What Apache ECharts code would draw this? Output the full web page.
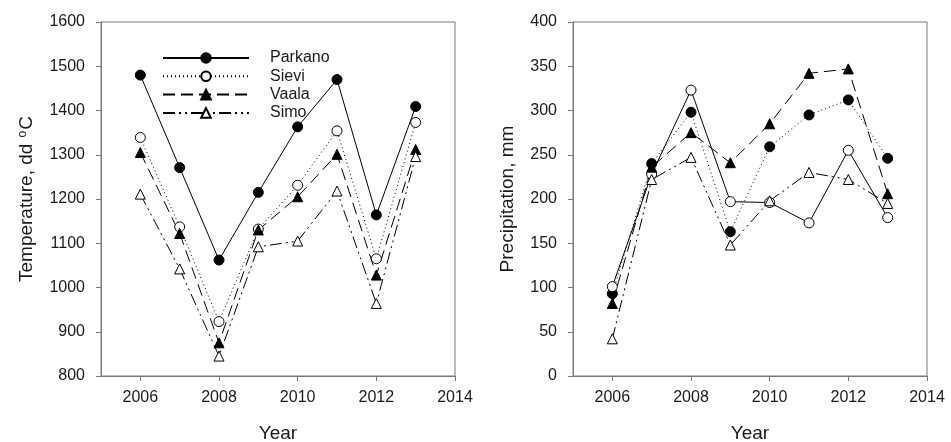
<!DOCTYPE html>
<html lang="en">
<head>
    <meta charset="UTF-8">
    <title>Temperature and precipitation</title>
    <script src="https://cdn.jsdelivr.net/npm/echarts@6/dist/echarts.min.js"></script>
</head>
<body>
<style>
    html, body, #main {
        width: 100%;
        padding: 0;
        margin: 0;
        height: 100%;
        background: #fff;
    }
</style>
<div id="main"></div>
<script>
    // data
    var years = [2006, 2007, 2008, 2009, 2010, 2011, 2012, 2013];
    var yearTicks = [2006, 2008, 2010, 2012, 2014];
    var stations = ['Parkano', 'Sievi', 'Vaala', 'Simo'];

    var tempParkano = [1480, 1271, 1062, 1215, 1363, 1470, 1164, 1409];
    var tempSievi   = [1339, 1137, 923, 1132, 1231, 1354, 1065, 1373];
    var tempVaala   = [1305, 1122, 875, 1130, 1205, 1301, 1028, 1312];
    var tempSimo    = [1211, 1042, 845, 1092, 1105, 1218, 964, 1296];

    var precParkano = [93, 240, 298, 163, 259, 295, 312, 246];
    var precSievi   = [101, 228, 323, 197, 196, 173, 255, 179];
    var precVaala   = [82, 236, 275, 241, 285, 342, 347, 206];
    var precSimo    = [42, 222, 247, 148, 198, 230, 222, 195];

    var font = 'Arial, "Liberation Sans", sans-serif';
    var axisGray = '#7a7a7a';
    var textColor = '#1a1a1a';

    var SOLID = 'solid';
    var DOTTED = [1, 3];
    var DASHED = [12, 6];
    var DASHDOTDOT = [12, 4, 2, 4, 2, 4];

    var markers = {
        Parkano: { symbol: 'circle', fill: '#000' },
        Sievi:   { symbol: 'circle', fill: '#fff' },
        Vaala:   { symbol: 'triangle', fill: '#000' },
        Simo:    { symbol: 'triangle', fill: '#fff' }
    };

    function plain(v) { return String(v); }

    function pairs(vals) {
        return years.map(function (y, i) { return [y, vals[i]]; });
    }

    function line(name, vals, dash, idx) {
        var m = markers[name];
        return {
            name: name,
            type: 'line',
            xAxisIndex: idx,
            yAxisIndex: idx,
            data: pairs(vals),
            symbol: m.symbol,
            symbolSize: 10,
            showAllSymbol: true,
            animation: false,
            lineStyle: { color: '#000', width: 1, type: dash },
            itemStyle: { color: m.fill, borderColor: '#000', borderWidth: 1, opacity: 1 }
        };
    }

    function xAxis(idx) {
        return {
            type: 'value',
            gridIndex: idx,
            min: 2005,
            max: 2014,
            name: 'Year',
            nameLocation: 'middle',
            nameGap: 48,
            nameTextStyle: { fontFamily: font, fontSize: 19, color: textColor },
            axisLine: { lineStyle: { color: axisGray } },
            axisTick: { length: 5, customValues: yearTicks, lineStyle: { color: axisGray } },
            axisLabel: { customValues: yearTicks, formatter: plain, fontFamily: font, fontSize: 16, color: textColor, margin: 14 },
            splitLine: { show: false }
        };
    }

    function yAxis(idx, min, max, step, name, gap) {
        return {
            type: 'value',
            gridIndex: idx,
            min: min,
            max: max,
            interval: step,
            name: name,
            nameLocation: 'middle',
            nameGap: gap,
            nameTextStyle: {
                fontFamily: font, fontSize: 19, color: textColor,
                rich: {
                    a: { fontFamily: font, fontSize: 19, color: textColor },
                    s: { fontFamily: font, fontSize: 12, color: textColor, verticalAlign: 'top', padding: [0, 1, 8, 1] }
                }
            },
            axisLine: { show: true, lineStyle: { color: axisGray } },
            axisTick: { show: true, length: 5, lineStyle: { color: axisGray } },
            axisLabel: { formatter: plain, fontFamily: font, fontSize: 16, color: textColor, margin: 16 },
            splitLine: { show: false }
        };
    }

    var myChart = echarts.init(document.getElementById('main'));
    myChart.setOption({
        backgroundColor: '#fff',
        grid: [
            { left: 101, top: 22, width: 354, height: 354, outerBoundsMode: 'none', show: true, borderColor: axisGray, borderWidth: 1 },
            { left: 573, top: 22, width: 354, height: 354, outerBoundsMode: 'none', show: true, borderColor: axisGray, borderWidth: 1 }
        ],
        legend: {
            data: stations,
            orient: 'vertical',
            left: 157,
            top: 45,
            itemWidth: 86,
            itemHeight: 12,
            itemGap: 2.3,
            selectedMode: false,
            textStyle: { fontFamily: font, fontSize: 16, lineHeight: 16, color: textColor, padding: [0, 0, 0, 16] }
        },
        xAxis: [xAxis(0), xAxis(1)],
        yAxis: [
            yAxis(0, 800, 1600, 100, '{a|Temperature, dd }{s|o}{a|C}', 64),
            yAxis(1, 0, 400, 50, 'Precipitation, mm', 56)
        ],
        series: [
            line('Parkano', tempParkano, SOLID, 0),
            line('Sievi', tempSievi, DOTTED, 0),
            line('Vaala', tempVaala, DASHED, 0),
            line('Simo', tempSimo, DASHDOTDOT, 0),
            // right panel: Parkano drawn dotted, Sievi solid, as in the source figure
            line('Parkano', precParkano, DOTTED, 1),
            line('Sievi', precSievi, SOLID, 1),
            line('Vaala', precVaala, DASHED, 1),
            line('Simo', precSimo, DASHDOTDOT, 1)
        ]
    });
</script>
</body>
</html>
